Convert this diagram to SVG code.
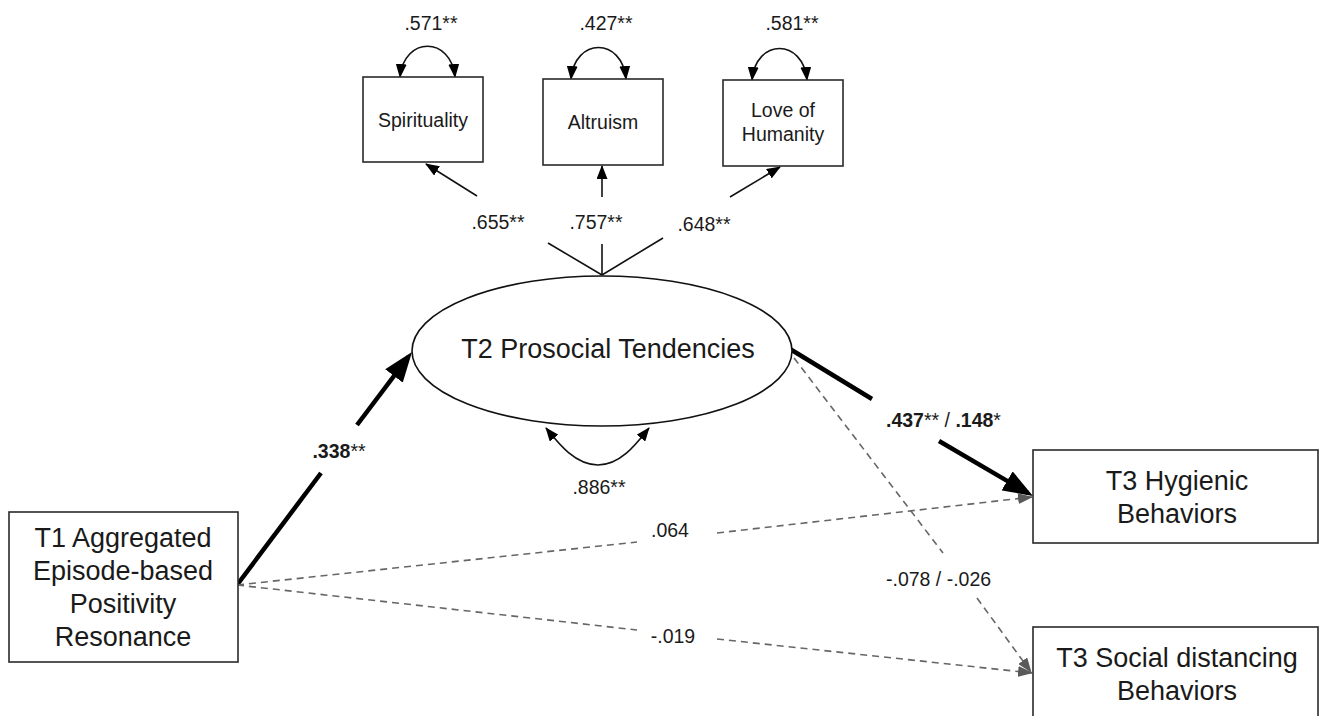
<svg xmlns="http://www.w3.org/2000/svg" width="1323" height="716" viewBox="0 0 1323 716">
<style>
text{font-family:"Liberation Sans",Arial,sans-serif;fill:#1a1a1a}
.lg{font-size:27px;text-anchor:middle}
.sm{font-size:19.5px;text-anchor:middle}
.ind{font-size:19.5px;text-anchor:middle}
.bx{fill:#fff;stroke:#2a2a2a;stroke-width:1.6}
.thin{fill:none;stroke:#111;stroke-width:1.6}
.thick{fill:none;stroke:#000;stroke-width:4.5}
.dash{fill:none;stroke:#666;stroke-width:1.6;stroke-dasharray:7 5}
.b{font-weight:bold}
</style>
<defs>
<marker id="ah" markerUnits="userSpaceOnUse" viewBox="0 0 14 11" refX="13" refY="5.5" markerWidth="14" markerHeight="11" orient="auto-start-reverse"><path d="M0,0 L14,5.5 L0,11 z" fill="#000"/></marker>
<marker id="ahT" markerUnits="userSpaceOnUse" viewBox="0 0 30 22" refX="24" refY="11" markerWidth="30" markerHeight="22" orient="auto"><path d="M0,0 L30,11 L0,22 z" fill="#000"/></marker>
<marker id="ahD" markerUnits="userSpaceOnUse" viewBox="0 0 15 11" refX="14" refY="5.5" markerWidth="15" markerHeight="11" orient="auto"><path d="M0,0 L15,5.5 L0,11 z" fill="#5a5a5a"/></marker>
</defs>

<g id="connectors">
  <!-- loadings -->
  <g id="load-spirituality">
    <path class="thin" d="M602,275 L548,243"/>
    <path class="thin" d="M477,196 L426,164" marker-end="url(#ah)"/>
  </g>
  <g id="load-altruism">
    <path class="thin" d="M602,275 L602,244"/>
    <path class="thin" d="M602,197 L602,166" marker-end="url(#ah)"/>
  </g>
  <g id="load-love">
    <path class="thin" d="M602,275 L663,238"/>
    <path class="thin" d="M730,197 L780,167" marker-end="url(#ah)"/>
  </g>
  <!-- residual self-loops -->
  <path class="thin" d="M400,77 C404,36 451,36 455,77" marker-start="url(#ah)" marker-end="url(#ah)"/>
  <path class="thin" d="M571,79 C575,37 622,37 626,79" marker-start="url(#ah)" marker-end="url(#ah)"/>
  <path class="thin" d="M752,80 C756,38 803,38 807,80" marker-start="url(#ah)" marker-end="url(#ah)"/>
  <path class="thin" d="M546,428 C558,443 575,465 598,465 C621,465 637,443 649,428" marker-start="url(#ah)" marker-end="url(#ah)"/>
  <!-- structural paths -->
  <g id="path-t1-t2">
    <path class="thick" d="M237,585 L321,473"/>
    <path class="thick" d="M357,425 L408.4,356.8" marker-end="url(#ahT)"/>
  </g>
  <g id="path-t2-hyg">
    <path class="thick" d="M790,349 L872,399"/>
    <path class="thick" d="M939,441 L1027.8,493" marker-end="url(#ahT)"/>
  </g>
  <g id="path-t1-hyg">
    <path class="dash" d="M237,585 L637,542"/>
    <path class="dash" d="M717,533 L1032,497" marker-end="url(#ahD)"/>
  </g>
  <g id="path-t1-soc">
    <path class="dash" d="M237,585 L637,630"/>
    <path class="dash" d="M717,639 L1032,673" marker-end="url(#ahD)"/>
  </g>
  <g id="path-t2-soc">
    <path class="dash" d="M794,358 L943,553"/>
    <path class="dash" d="M977,598 L1031,672" marker-end="url(#ahD)"/>
  </g>
</g>

<g id="node-spirituality">
  <rect class="bx" x="363" y="77" width="120" height="85"/>
  <text class="ind" x="423" y="127">Spirituality</text>
</g>
<g id="node-altruism">
  <rect class="bx" x="543" y="79" width="120" height="86"/>
  <text class="ind" x="603" y="129">Altruism</text>
</g>
<g id="node-love">
  <rect class="bx" x="723" y="80" width="120" height="86"/>
  <text class="ind" x="783" y="117">Love of</text>
  <text class="ind" x="783" y="141">Humanity</text>
</g>
<g id="node-t2">
  <ellipse cx="602" cy="351" rx="190" ry="75" fill="#fff" stroke="#111" stroke-width="1.6"/>
  <text class="lg" x="608" y="358">T2 Prosocial Tendencies</text>
</g>
<g id="node-t1">
  <rect class="bx" x="9" y="512" width="229" height="150"/>
  <text class="lg" x="123" y="547">T1 Aggregated</text>
  <text class="lg" x="123" y="580">Episode-based</text>
  <text class="lg" x="123" y="613">Positivity</text>
  <text class="lg" x="123" y="646">Resonance</text>
</g>
<g id="node-hygienic">
  <rect class="bx" x="1033" y="450" width="285" height="93"/>
  <text class="lg" x="1177" y="490">T3 Hygienic</text>
  <text class="lg" x="1177" y="523">Behaviors</text>
</g>
<g id="node-social">
  <rect class="bx" x="1033" y="627" width="285" height="100"/>
  <text class="lg" x="1177" y="667">T3 Social distancing</text>
  <text class="lg" x="1177" y="700">Behaviors</text>
</g>

<g id="labels">
  <text class="sm" x="431" y="30">.571**</text>
  <text class="sm" x="606" y="30">.427**</text>
  <text class="sm" x="792" y="30">.581**</text>
  <text class="sm" x="498" y="229">.655**</text>
  <text class="sm" x="596" y="229">.757**</text>
  <text class="sm" x="704" y="231">.648**</text>
  <text class="sm" x="599" y="494">.886**</text>
  <text class="sm" x="339" y="458"><tspan class="b">.338</tspan>**</text>
  <text class="sm" x="670" y="537">.064</text>
  <text class="sm" x="673" y="643">-.019</text>
  <text x="886" y="427" font-size="19.5px"><tspan class="b">.437</tspan>** / <tspan class="b">.148</tspan>*</text>
  <text x="886" y="586" font-size="19.5px">-.078 / -.026</text>
</g>
</svg>
